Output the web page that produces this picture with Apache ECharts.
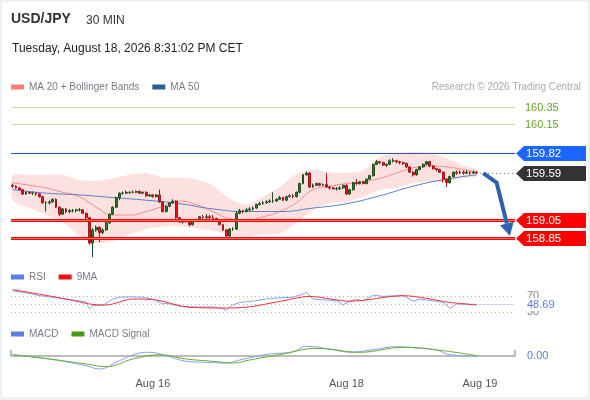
<!DOCTYPE html>
<html>
<head>
<meta charset="utf-8">
<title>USD/JPY 30 MIN</title>
<script src="https://cdn.jsdelivr.net/npm/echarts@6/dist/echarts.min.js"></script>
<style>
    html, body { margin: 0; padding: 0; background: #fff; }
    #chart { position: absolute; left: 0; top: 0; width: 590px; height: 400px; }
    #frame { position: absolute; left: 0; top: 0; width: 590px; height: 400px; box-sizing: border-box;
             border: 2px solid #edf1f4; border-bottom-width: 3px; pointer-events: none; }
</style>
</head>
<body>
<div id="chart"></div>
<div id="frame"></div>
<script>
var FONT = '"Liberation Sans", Arial, sans-serif';

// 30 min candles
var candleOpen = [
    159.45,159.44,159.42,159.40,159.35,159.37,159.36,159.36,159.35,159.32,
    159.25,159.25,159.26,159.29,159.20,159.12,159.18,159.15,159.16,159.16,
    159.17,159.17,159.13,159.08,158.79,158.94,158.97,158.91,158.94,159.02,
    159.12,159.20,159.31,159.36,159.36,159.37,159.37,159.37,159.38,159.36,
    159.37,159.33,159.34,159.32,159.34,159.26,159.15,159.21,159.25,159.27,
    159.08,159.03,159.04,159.05,159.00,159.04,159.05,159.09,159.08,159.09,
    159.08,159.07,159.05,159.00,158.94,158.87,158.95,158.95,159.13,159.16,
    159.15,159.17,159.18,159.19,159.23,159.24,159.25,159.26,159.27,159.27,
    159.29,159.31,159.28,159.32,159.33,159.32,159.37,159.47,159.57,159.59,
    159.43,159.45,159.47,159.45,159.46,159.43,159.42,159.41,159.41,159.42,
    159.45,159.35,159.40,159.48,159.47,159.49,159.47,159.52,159.56,159.69,
    159.72,159.71,159.68,159.69,159.73,159.73,159.72,159.71,159.70,159.66,
    159.60,159.57,159.63,159.66,159.69,159.72,159.67,159.64,159.63,159.60,
    159.52,159.48,159.55,159.60,159.59,159.60,159.59,159.60,159.59,159.60];
var candleClose = [
    159.44,159.42,159.40,159.35,159.37,159.36,159.36,159.35,159.32,159.25,
    159.25,159.26,159.29,159.20,159.12,159.18,159.15,159.16,159.16,159.17,
    159.17,159.13,159.08,158.79,158.94,158.97,158.91,158.94,159.02,159.12,
    159.20,159.31,159.36,159.36,159.37,159.37,159.37,159.38,159.36,159.37,
    159.33,159.34,159.32,159.34,159.26,159.15,159.21,159.25,159.27,159.08,
    159.03,159.04,159.05,159.00,159.04,159.05,159.09,159.08,159.09,159.08,
    159.07,159.05,159.00,158.94,158.87,158.95,158.95,159.13,159.16,159.15,
    159.17,159.18,159.19,159.23,159.24,159.25,159.26,159.27,159.27,159.29,
    159.31,159.28,159.32,159.33,159.32,159.37,159.47,159.57,159.59,159.43,
    159.45,159.47,159.45,159.46,159.43,159.42,159.41,159.41,159.42,159.45,
    159.35,159.40,159.48,159.47,159.49,159.47,159.52,159.56,159.69,159.72,
    159.71,159.68,159.69,159.73,159.73,159.72,159.71,159.70,159.66,159.60,
    159.57,159.63,159.66,159.69,159.72,159.67,159.64,159.63,159.60,159.52,
    159.48,159.55,159.60,159.59,159.60,159.59,159.60,159.59,159.60,159.59];
var candleLow = [
    159.42,159.41,159.39,159.34,159.34,159.35,159.34,159.33,159.31,159.24,
    159.15,159.23,159.25,159.19,159.10,159.11,159.13,159.13,159.14,159.14,
    159.15,159.12,159.06,158.77,158.63,158.92,158.80,158.89,158.93,159.01,
    159.11,159.19,159.28,159.34,159.35,159.35,159.36,159.36,159.35,159.35,
    159.32,159.32,159.31,159.31,159.25,159.14,159.14,159.20,159.24,159.06,
    159.02,159.01,159.02,158.98,158.99,159.03,159.04,159.06,159.04,159.06,
    159.05,159.03,158.99,158.93,158.85,158.85,158.93,158.94,159.12,159.13,
    159.14,159.15,159.16,159.18,159.22,159.23,159.24,159.25,159.25,159.26,
    159.28,159.27,159.27,159.31,159.30,159.31,159.36,159.46,159.56,159.42,
    159.42,159.44,159.44,159.44,159.42,159.40,159.40,159.39,159.40,159.41,
    159.34,159.34,159.39,159.45,159.46,159.46,159.46,159.51,159.55,159.68,
    159.69,159.67,159.66,159.68,159.71,159.70,159.69,159.68,159.65,159.59,
    159.55,159.56,159.62,159.65,159.68,159.66,159.63,159.61,159.59,159.48,
    159.43,159.47,159.54,159.57,159.58,159.57,159.58,159.57,159.58,159.58];
var candleHigh = [
    159.47,159.45,159.43,159.41,159.38,159.38,159.38,159.37,159.36,159.33,
    159.27,159.28,159.30,159.30,159.21,159.19,159.19,159.18,159.18,159.18,
    159.19,159.18,159.14,159.09,158.96,158.99,158.98,158.96,159.03,159.13,
    159.21,159.32,159.37,159.38,159.39,159.38,159.39,159.39,159.39,159.38,
    159.38,159.35,159.35,159.35,159.40,159.27,159.22,159.26,159.29,159.28,
    159.09,159.06,159.06,159.06,159.05,159.07,159.10,159.11,159.12,159.11,
    159.11,159.08,159.06,159.01,158.95,158.96,158.97,159.15,159.18,159.17,
    159.19,159.20,159.21,159.24,159.26,159.27,159.28,159.29,159.37,159.30,
    159.33,159.32,159.33,159.35,159.35,159.38,159.48,159.58,159.61,159.60,
    159.47,159.48,159.48,159.47,159.59,159.44,159.43,159.43,159.44,159.46,
    159.46,159.41,159.49,159.52,159.50,159.50,159.53,159.57,159.70,159.74,
    159.73,159.72,159.70,159.75,159.76,159.74,159.73,159.72,159.71,159.67,
    159.61,159.64,159.67,159.70,159.73,159.73,159.68,159.65,159.64,159.61,
    159.53,159.56,159.61,159.62,159.62,159.62,159.62,159.61,159.62,159.61];

// indicators (sampled at candle indexes)
var ma50Idx = [0,10,20,30,40,50,60,70,80,90,100,110,120,130,139];
var ma50Val = [159.40,159.36,159.34,159.31,159.28,159.24,159.18,159.15,159.15,159.19,159.24,159.33,159.44,159.52,159.57];

var ma20Idx = [0,5,10,15,20,25,30,35,40,45,50,55,60,65,70,75,80,85,90,95,100,105,110,115,120,125,130,135,139];
var ma20Val = [159.48,159.45,159.42,159.37,159.32,159.20,159.11,159.11,159.15,159.21,159.27,159.23,159.15,159.07,159.05,
               159.09,159.15,159.25,159.40,159.44,159.47,159.49,159.53,159.59,159.65,159.67,159.66,159.63,159.60];
var bbUpper = [159.57,159.57,159.57,159.57,159.51,159.50,159.53,159.57,159.59,159.54,159.54,159.52,159.45,159.30,159.23,
               159.32,159.43,159.58,159.63,159.60,159.59,159.62,159.77,159.82,159.83,159.82,159.76,159.68,159.63];
var bbLower = [159.28,159.19,159.11,159.03,158.87,158.79,158.81,158.89,158.95,158.98,158.98,158.96,158.93,158.88,158.86,
               158.89,158.90,159.02,159.17,159.25,159.26,159.32,159.40,159.42,159.48,159.49,159.49,159.53,159.55];

var rsiIdx = [0,4,8,12,16,20,22,23,24,27,30,32,36,39,42,45,46,48,51,54,56,60,62,64,66,68,72,77,84,87,
              88,90,94,97,99,101,103,105,108,111,115,117,120,122,126,129,131,133,136,139];
var rsiVal = [83,78,71,67,62,58,55,38,46,47,62,67,68,67,62,50,52,48,43,43,42,43,40,35,48,54,57,64,67,75,
              79,62,60,58,48,57,62,58,72,69,71,71,57,62,58,54,39,50,50,48.69];
var rsiMaIdx = [0,6,16,25,28,36,43,53,64,71,81,89,101,117,131,139];
var rsiMaVal = [86,77.5,62.5,48,47.5,62.5,60,41.7,40,43,58,69,56.7,70.8,54,47.5];
var rsiLevels = [70, 50, 30];
var rsiLast = 48.69;

var macdIdx = [0,11,22,26,32,38,41,46,52,58,64,68,74,77,84,88,96,101,108,115,121,127,131,139];
var macdVal = [0.013,-0.03,-0.097,-0.13,-0.047,0.03,0.037,0.003,-0.053,-0.063,-0.07,-0.04,0.003,0.02,0.043,0.097,
               0.063,0.037,0.063,0.093,0.08,0.06,0.013,0.00];
var sigIdx = [0,11,22,28,36,44,52,60,66,71,81,91,104,117,129,139];
var sigVal = [0.013,-0.03,-0.08,-0.107,-0.03,0.013,-0.03,-0.053,-0.07,-0.04,0.02,0.077,0.037,0.087,0.053,0.003];
var macdLast = 0.00;

// price levels on the right
var levelPrice = [160.35, 160.15, 159.82, 159.59, 159.05, 158.85];
var levelKind  = ['green', 'green', 'blue', 'last', 'red', 'red'];

// forecast arrow
var arrowIdx = [141, 145, 149];
var arrowVal = [159.59, 159.48, 158.87];

// bottom axis labels
var tickIdx = [42, 100, 140];
var tickText = ['Aug 16', 'Aug 18', 'Aug 19'];

var nCat = 151;
var cats = [];
for (var i = 0; i < nCat; i++) cats.push(String(i));
var candles = candleOpen.map(function (o, i) { return [o, candleClose[i], candleLow[i], candleHigh[i]]; });
function pairs(idx, val) { return idx.map(function (x, i) { return [x, val[i]]; }); }

function drawBand(params, api) {
    var pts = [];
    ma20Idx.forEach(function (x, i) { pts.push(api.coord([x, bbUpper[i]])); });
    for (var k = ma20Idx.length - 1; k >= 0; k--) pts.push(api.coord([ma20Idx[k], bbLower[k]]));
    return { type: 'polygon', shape: { points: pts, smooth: 0.2 }, style: { fill: '#fde1e1' } };
}

function drawLevel(params, api) {
    var cs = params.coordSys;
    var L = cs.x, R = cs.x + cs.width;
    var kind = levelKind[params.dataIndex];
    var price = levelPrice[params.dataIndex];
    var y = Math.round(api.coord([0, price])[1]) + 0.5;
    var txt = price.toFixed(2);
    var kids = [];
    if (kind === 'green') {
        kids.push({ type: 'line', shape: { x1: L, y1: y, x2: R, y2: y }, style: { stroke: '#c6e0a6', lineWidth: 1 } });
        kids.push({ type: 'text', style: { text: txt, x: R + 10, y: y, verticalAlign: 'middle', fill: '#5fa826', font: '11px ' + FONT } });
        return { type: 'group', children: kids };
    }
    var tag;
    if (kind === 'blue') {
        tag = '#1a66ff';
        kids.push({ type: 'line', shape: { x1: L, y1: y, x2: R, y2: y }, style: { stroke: '#2456c8', lineWidth: 1 } });
    } else if (kind === 'last') {
        tag = '#333333';
        var x0 = api.coord([candleClose.length, price])[0];
        kids.push({ type: 'line', shape: { x1: x0, y1: y, x2: R, y2: y }, style: { stroke: '#777', lineWidth: 1, lineDash: [1, 3] } });
    } else {
        tag = '#ff0000';
        kids.push({ type: 'line', shape: { x1: L, y1: y, x2: R, y2: y }, style: { stroke: '#ff0000', lineWidth: 3 } });
        kids.push({ type: 'line', shape: { x1: L, y1: y, x2: R, y2: y }, style: { stroke: '#ff6a6a', lineWidth: 1 } });
    }
    kids.push({ type: 'polygon', shape: { points: [[R + 1, y], [R + 9, y - 7.5], [R + 71, y - 7.5], [R + 71, y + 7.5], [R + 9, y + 7.5]] },
                style: { fill: tag } });
    kids.push({ type: 'text', style: { text: txt, x: R + 11, y: y + 0.5, verticalAlign: 'middle', fill: '#fff', font: '11.5px ' + FONT } });
    return { type: 'group', children: kids };
}

function drawArrow(params, api) {
    var pts = arrowIdx.map(function (x, i) { return api.coord([x, arrowVal[i]]); });
    var a = pts[pts.length - 2], b = pts[pts.length - 1];
    var dx = b[0] - a[0], dy = b[1] - a[1];
    var len = Math.sqrt(dx * dx + dy * dy);
    var ux = dx / len, uy = dy / len;
    var hl = 13, hw = 7;
    var bx = b[0] - ux * hl, by = b[1] - uy * hl;
    var line = pts.slice(0, -1).concat([[bx, by]]);
    return { type: 'group', children: [
        { type: 'polyline', shape: { points: line }, style: { stroke: '#2f62a8', lineWidth: 4, fill: null } },
        { type: 'polygon', shape: { points: [b, [bx - uy * hw, by + ux * hw], [bx + uy * hw, by - ux * hw]] }, style: { fill: '#2f62a8' } }
    ] };
}

function drawRsiGuides(params, api) {
    var cs = params.coordSys;
    var L = cs.x, R = cs.x + cs.width;
    var kids = [];
    rsiLevels.forEach(function (v) {
        var y = Math.round(api.coord([0, v])[1]) + 0.5;
        kids.push({ type: 'line', shape: { x1: L, y1: y, x2: R, y2: y }, style: { stroke: '#b4b4b4', lineWidth: 1, lineDash: [1, 3] } });
    });
    var last = api.coord([rsiIdx[rsiIdx.length - 1], rsiLast]);
    kids.push({ type: 'line', shape: { x1: last[0], y1: last[1], x2: R, y2: last[1] }, style: { stroke: '#90a8ee', lineWidth: 1, lineDash: [1, 3] } });
    [70, 30].forEach(function (v) {
        kids.push({ type: 'text', style: { text: String(v), x: R + 12, y: api.coord([0, v])[1], verticalAlign: 'middle', fill: '#888', font: '11px ' + FONT } });
    });
    kids.push({ type: 'text', style: { text: rsiLast.toFixed(2), x: R + 11, y: last[1], verticalAlign: 'middle', fill: '#5b7fe3',
                font: '11px ' + FONT, backgroundColor: '#fff', padding: [1, 1] } });
    return { type: 'group', children: kids };
}

function drawMacdGuides(params, api) {
    var cs = params.coordSys;
    var R = cs.x + cs.width;
    var last = api.coord([macdIdx[macdIdx.length - 1], macdLast]);
    return { type: 'group', children: [
        { type: 'line', shape: { x1: last[0], y1: last[1], x2: R, y2: last[1] }, style: { stroke: '#90a8ee', lineWidth: 1, lineDash: [1, 3] } },
        { type: 'text', style: { text: macdLast.toFixed(2), x: R + 12, y: last[1], verticalAlign: 'middle', fill: '#5b7fe3', font: '11px ' + FONT } }
    ] };
}

var chart = echarts.init(document.getElementById('chart'));

var legendBase = { left: 11, padding: 0, itemWidth: 13, itemHeight: 5, itemGap: 13, icon: 'rect', selectedMode: false,
                   textStyle: { fontSize: 10, color: '#7a7a86', fontFamily: FONT } };

chart.setOption({
    animation: false,
    textStyle: { fontFamily: FONT },
    title: [
        { text: 'USD/JPY', left: 11, top: 12, padding: 0, textStyle: { fontSize: 14, fontWeight: 'bold', color: '#333' } },
        { text: '30 MIN', left: 86, top: 15, padding: 0, textStyle: { fontSize: 12, fontWeight: 'normal', color: '#333' } },
        { text: 'Tuesday, August 18, 2026 8:31:02 PM CET', left: 12, top: 43, padding: 0, textStyle: { fontSize: 12, fontWeight: 'normal', color: '#222' } },
        { text: 'Research © 2026 Trading Central', right: 9, top: 82, padding: 0, textStyle: { fontSize: 10, fontWeight: 'normal', color: '#aaa' } }
    ],
    legend: [
        Object.assign({}, legendBase, { top: 82, data: [
            { name: 'MA 20 + Bollinger Bands', itemStyle: { color: '#ff7b7b', borderWidth: 0 } },
            { name: 'MA 50', itemStyle: { color: '#2f5a9a', borderWidth: 0 } }] }),
        Object.assign({}, legendBase, { top: 272, data: [
            { name: 'RSI', itemStyle: { color: '#5b7fe3', borderWidth: 0 } },
            { name: '9MA', itemStyle: { color: '#ee1111', borderWidth: 0 } }] }),
        Object.assign({}, legendBase, { top: 329, data: [
            { name: 'MACD', itemStyle: { color: '#5b7fe3', borderWidth: 0 } },
            { name: 'MACD Signal', itemStyle: { color: '#4a9a1a', borderWidth: 0 } }] })
    ],
    grid: [
        { left: 11, right: 75, top: 95, height: 166 },
        { left: 11, right: 75, top: 284, height: 40 },
        { left: 11, right: 75, top: 340, height: 36 }
    ],
    xAxis: [
        { type: 'category', gridIndex: 0, data: cats, show: false, boundaryGap: true },
        { type: 'value', gridIndex: 1, min: -0.5, max: nCat - 0.5, show: false },
        { type: 'value', gridIndex: 2, min: -0.5, max: nCat - 0.5, position: 'bottom',
          splitLine: { show: false },
          axisLine: { show: true, lineStyle: { color: '#a8a8a8', width: 1.5 } },
          axisTick: { show: true, inside: true, length: 6, customValues: [-0.5, nCat - 0.5], lineStyle: { color: '#a8a8a8', width: 1.5 } },
          axisLabel: { show: true, customValues: tickIdx, margin: 2, color: '#555', fontSize: 11,
                       formatter: function (v) { return tickText[tickIdx.indexOf(Math.round(v))] || ''; } } }
    ],
    yAxis: [
        { type: 'value', gridIndex: 0, min: 158.585, max: 160.482, show: false },
        { type: 'value', gridIndex: 1, min: 0, max: 100, show: false },
        { type: 'value', gridIndex: 2, min: -0.2, max: 0.16, show: false }
    ],
    series: [
        { type: 'custom', xAxisIndex: 0, yAxisIndex: 0, z: 1, silent: true, renderItem: drawBand, data: [[0, 159.2]] },
        { name: 'MA 20 + Bollinger Bands', type: 'line', xAxisIndex: 0, yAxisIndex: 0, z: 2, data: pairs(ma20Idx, ma20Val),
          showSymbol: false, smooth: true, lineStyle: { color: '#ff8a8a', width: 1 }, itemStyle: { color: '#ff8a8a' } },
        { name: 'MA 50', type: 'line', xAxisIndex: 0, yAxisIndex: 0, z: 2, data: pairs(ma50Idx, ma50Val),
          showSymbol: false, smooth: true, lineStyle: { color: '#5a7fc4', width: 1 }, itemStyle: { color: '#5a7fc4' } },
        { name: 'USD/JPY', type: 'candlestick', xAxisIndex: 0, yAxisIndex: 0, z: 3, data: candles, barWidth: '70%',
          itemStyle: { color: '#2e7d2e', color0: '#e3171c', borderColor: '#1e4d1e', borderColor0: '#a51515', borderWidth: 1 } },
        { type: 'custom', xAxisIndex: 0, yAxisIndex: 0, z: 4, silent: true, renderItem: drawLevel,
          data: levelPrice.map(function (p, i) { return [i, p]; }) },
        { type: 'custom', xAxisIndex: 0, yAxisIndex: 0, z: 5, silent: true, renderItem: drawArrow,
          data: [[arrowIdx[0], arrowVal[0]]] },

        { type: 'custom', xAxisIndex: 1, yAxisIndex: 1, z: 1, silent: true, renderItem: drawRsiGuides, data: [[0, 50]] },
        { name: 'RSI', type: 'line', xAxisIndex: 1, yAxisIndex: 1, z: 2, data: pairs(rsiIdx, rsiVal),
          showSymbol: false, lineStyle: { color: '#86a2ee', width: 1 }, itemStyle: { color: '#86a2ee' } },
        { name: '9MA', type: 'line', xAxisIndex: 1, yAxisIndex: 1, z: 3, data: pairs(rsiMaIdx, rsiMaVal),
          showSymbol: false, smooth: 0.3, lineStyle: { color: '#f0303a', width: 1 }, itemStyle: { color: '#f0303a' } },

        { type: 'custom', xAxisIndex: 2, yAxisIndex: 2, z: 1, silent: true, renderItem: drawMacdGuides, data: [[0, 0]] },
        { name: 'MACD', type: 'line', xAxisIndex: 2, yAxisIndex: 2, z: 2, data: pairs(macdIdx, macdVal),
          showSymbol: false, smooth: 0.4, lineStyle: { color: '#86a2ee', width: 1 }, itemStyle: { color: '#86a2ee' } },
        { name: 'MACD Signal', type: 'line', xAxisIndex: 2, yAxisIndex: 2, z: 3, data: pairs(sigIdx, sigVal),
          showSymbol: false, smooth: 0.4, lineStyle: { color: '#66aa33', width: 1 }, itemStyle: { color: '#66aa33' } }
    ]
});
</script>
</body>
</html>
